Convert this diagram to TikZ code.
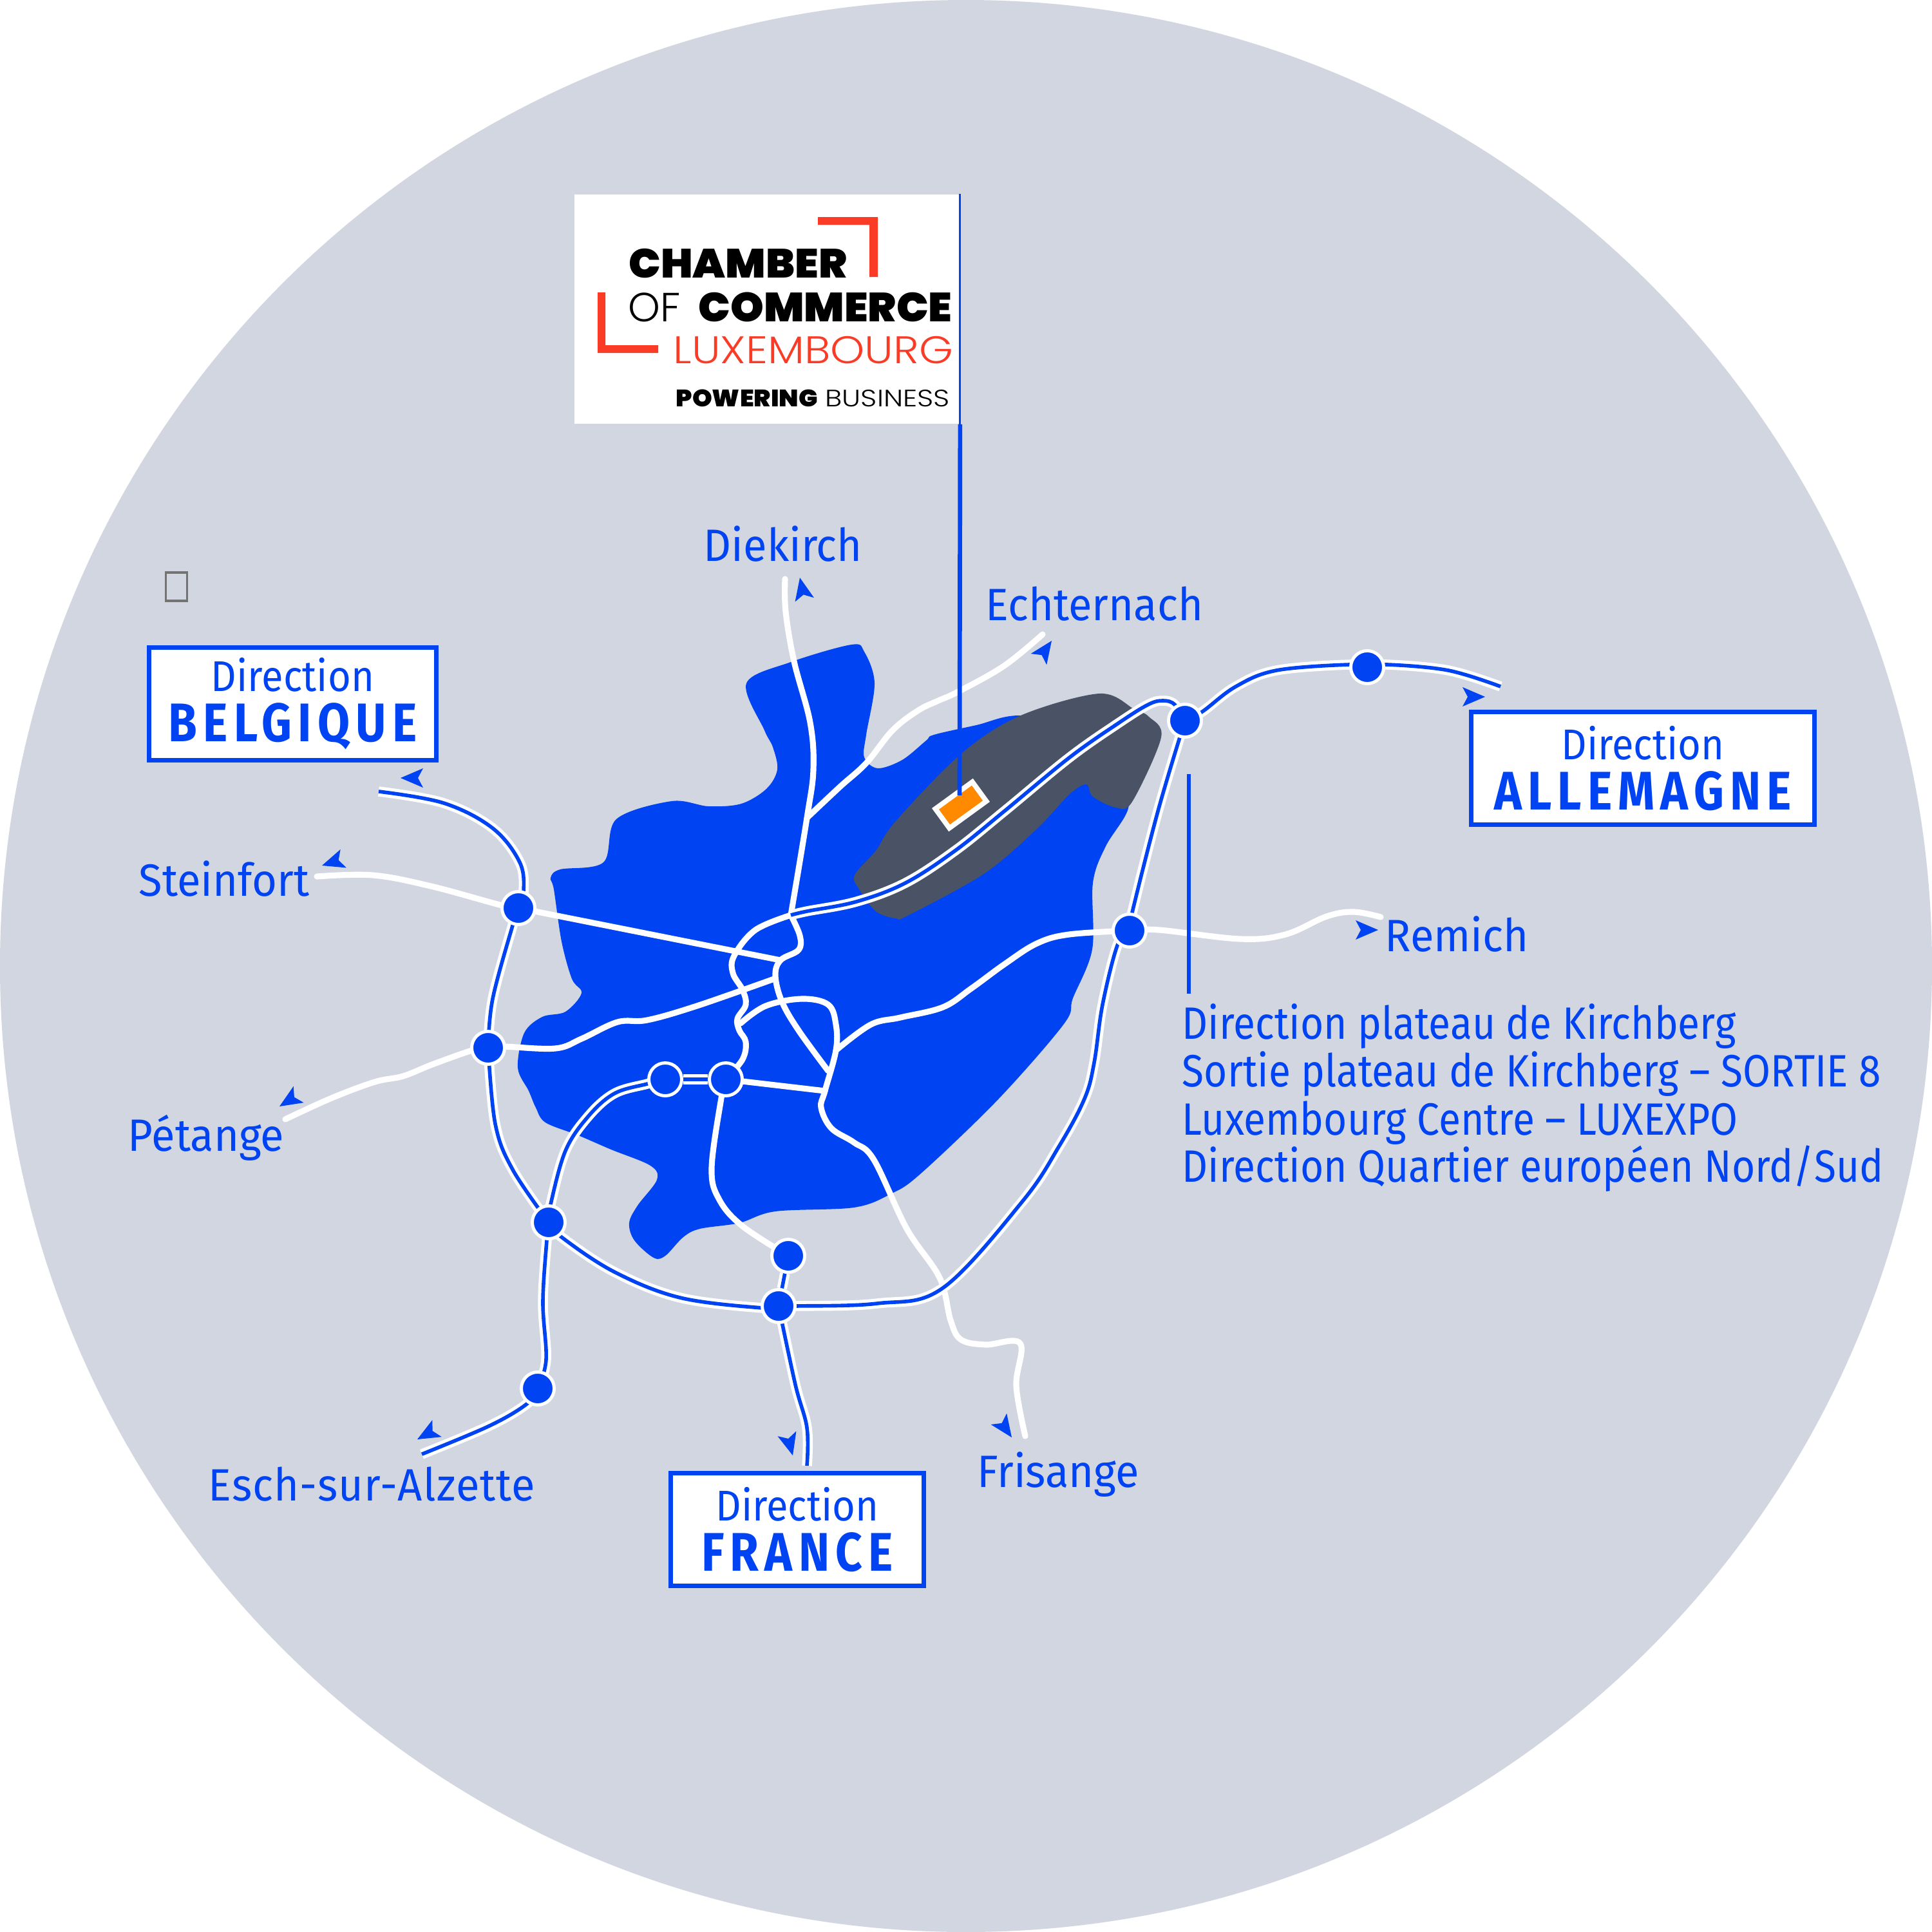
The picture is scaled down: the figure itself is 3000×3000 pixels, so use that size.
\documentclass[tikz,border=0pt]{standalone}
\usepackage{fontspec}
\setmainfont{Fira Sans}[FakeStretch=0.95]
\newfontfamily\exitfont{Fira Sans}[FakeStretch=0.885]
\newfontfamily\directionfont{Fira Sans}[FakeStretch=0.92]
\newfontfamily\signfont{Fira Sans}[FakeStretch=0.86,LetterSpace=11]
\newfontfamily\logolight{Poppins Light}
\newfontfamily\logoheavy{Poppins Black}
\definecolor{discgrey}{HTML}{D2D6E0}
\definecolor{routeblue}{HTML}{0043F3}
\definecolor{zonegrey}{HTML}{4A5366}
\definecolor{siteorange}{HTML}{FF8A00}
\definecolor{logored}{HTML}{FA3B26}
\pgfdeclarelayer{maplayer}
\pgfsetlayers{maplayer,main}
\tikzset{
  road/.style={draw=white,line width=2.6pt,line cap=round},
  motorway/.style={draw=white,double=routeblue,line width=1.4pt,double distance=1.6pt},
  junction/.style={circle,draw=white,fill=routeblue,line width=1.4pt,minimum size=.51cm,inner sep=0},
  place/.style={anchor=base west,inner sep=0,text=routeblue,font=\fontsize{20}{24}\selectfont},
  exitline/.style={place,font=\exitfont\fontsize{20}{24}\selectfont},
  sign/.style={draw=routeblue,fill=white,line width=2pt,text=routeblue,align=center,inner sep=0,
    font=\directionfont\fontsize{19}{22.2}\selectfont},
  logotext/.style={anchor=base west,inner sep=0},
}
\newcommand{\arrowtip}[2]{\fill[routeblue,shift={(#1)},rotate=#2] (0,0) -- (-35,-15) -- (-27,0) -- (-35,15) -- cycle;}
\begin{document}
\begin{tikzpicture}[x=0.01cm,y=-0.01cm]
\useasboundingbox (0,0) rectangle (3000,3000);

% junctions, the roads below are drawn from them
\node[junction] (steinfort) at (805,1410) {};
\node[junction] (petange) at (758,1627) {};
\node[junction] (esch) at (852,1898) {};
\node[junction] (south) at (835,2156) {};
\node[junction] (bridge) at (1209,2028) {};
\node[junction] (gare) at (1224,1950) {};
\node[junction] (hollerich) at (1033,1676) {};
\node[junction] (centre) at (1127,1676) {};
\node[junction] (remich) at (1754,1445) {};
\node[junction] (kirch) at (1840,1119) {};
\node[junction] (trier) at (2123,1036) {};

% free ends of the roads
\coordinate (belend) at (588,1229);
\coordinate (steend) at (492,1361);
\coordinate (petend) at (443,1738);
\coordinate (eschend) at (655,2258);
\coordinate (fraend) at (1253,2276);
\coordinate (friend) at (1592,2230);
\coordinate (allend) at (2330,1066);
\coordinate (remend) at (2144,1424);
\coordinate (dieend) at (1219,899);
\coordinate (echend) at (1619,985);
\coordinate (kirchtop) at (1228,1421);
\coordinate (kirchmid) at (1212,1491);
\coordinate (westmid) at (1202,1520);
\coordinate (loopleft) at (1150,1589);
\coordinate (loopright) at (1298,1631);
\coordinate (loopfoot) at (1281,1694);
\coordinate (dieturn) at (1253,1270);

\begin{pgfonlayer}{maplayer}
% the disc behind everything
\fill[white] (0,0) rectangle (3000,3000);
\fill[discgrey] (1500,1500) circle (1500);

% the city
\fill[routeblue] plot[smooth cycle,tension=.55] coordinates {
  (1159,1061) (1228,1028) (1322,1001) (1342,1012) (1358,1061) (1345,1141) (1342,1176)
  (1363,1193) (1401,1180) (1438,1150) (1450,1141) (1516,1126) (1585,1111) (1700,1130)
  (1745,1200) (1752,1255) (1717,1314) (1697,1371)
  (1696,1474) (1666,1550) (1652,1590) (1550,1707) (1429,1823) (1383,1854) (1326,1875)
  (1204,1881) (1148,1899) (1087,1908) (1061,1921) (1033,1950) (1015,1953) (985,1926)
  (977,1899) (990,1872) (1020,1832) (1010,1810) (949,1785) (898,1763) (847,1743)
  (832,1720) (821,1694) (804,1658) (814,1604) (842,1579) (878,1571) (903,1542) (888,1520)
  (872,1462) (860,1381) (855,1363) (870,1350) (937,1339) (957,1272) (1043,1244)
  (1100,1252) (1151,1248) (1190,1225) (1207,1195) (1200,1160) (1187,1134)};
% the plateau
\fill[zonegrey] plot[smooth cycle,tension=.55] coordinates {
  (1585,1111) (1707,1077) (1761,1101) (1784,1113) (1803,1145) (1758,1245) (1733,1254)
  (1697,1237) (1687,1218) (1661,1233) (1610,1287) (1529,1356) (1411,1421) (1391,1426)
  (1360,1415) (1335,1382) (1327,1359) (1360,1321) (1391,1275) (1493,1170)};

% single roads
\draw[road] plot[smooth,tension=.6] coordinates {(steend) (579,1359) (669,1376) (776,1405) (steinfort)};
\draw[road] (steinfort) -- (kirchmid);
\draw[road] plot[smooth,tension=.6] coordinates {(petend) (515,1705) (582,1680) (626,1671) (671,1653) (733,1631) (petange)};
\draw[road] plot[smooth,tension=.6] coordinates {(petange) (781,1625) (862,1628) (903,1613) (959,1587) (1005,1584) (1082,1562) (westmid)};
\draw[road] plot[smooth,tension=.6] coordinates {(dieend) (1220,950) (1233,1027) (1258,1122) (1263,1195) (dieturn) (kirchtop)};
\draw[road] plot[smooth,tension=.6] coordinates {(echend) (1559,1034) (1488,1074) (1457,1088) (1426,1103) (1386,1134) (1345,1185) (1304,1222) (dieturn)};
\draw[road] plot[smooth,tension=.6] coordinates {(kirchtop) (1173,1444) (1140,1484) (1138,1511) (1153,1537) (1158,1560) (1145,1582) (1148,1600) (1158,1618) (1153,1645) (centre)};
\draw[road] plot[smooth,tension=.6] coordinates {(kirchtop) (1242,1453) (1240,1475) (kirchmid) (1204,1515) (1214,1555) (1240,1600) (1286,1663)};
\draw[road] plot[smooth,tension=.6] coordinates {(loopleft) (1189,1562) (1245,1551) (1286,1560) (1298,1591) (loopright) (loopfoot) (1275,1720) (1291,1752) (1326,1774) (1357,1801) (1408,1908) (1459,1984) (1476,2050) (1492,2080) (1530,2088) (1584,2086) (1578,2152) (friend)};
\draw[road] plot[smooth,tension=.6] coordinates {(remich) (1660,1451) (1610,1465) (1560,1497) (1508,1535) (1464,1564) (1398,1580) (1352,1591) (loopright)};
\draw[road] (centre) -- (loopfoot);
\draw[road] plot[smooth,tension=.6] coordinates {(centre) (1120,1705) (1105,1814) (1117,1863) (1153,1904) (gare)};
\draw[road] plot[smooth,tension=.6] coordinates {(remich) (1800,1444) (1926,1458) (1996,1451) (2060,1423) (2102,1416) (remend)};

% motorways
\draw[motorway] plot[smooth,tension=.6] coordinates {(belend) (689,1247) (765,1286) (807,1339) (813,1385) (steinfort)};
\draw[motorway] plot[smooth,tension=.6] coordinates {(steinfort) (796,1437) (765,1551) (petange)};
\draw[motorway] plot[smooth,tension=.6] coordinates {(petange) (769,1745) (796,1816) (esch)};
\draw[motorway] plot[smooth,tension=.6] coordinates {(esch) (872,1921) (954,1975) (1056,2015) (1184,2031) (bridge)};
\draw[motorway] plot[smooth,tension=.6] coordinates {(bridge) (1235,2028) (1362,2024) (1464,2000) (1588,1865) (1645,1779) (1684,1706) (1699,1650) (1712,1560) (1735,1468) (remich)};
\draw[motorway] plot[smooth,tension=.6] coordinates {(remich) (1758,1417) (1799,1256) (kirch)};
\draw[motorway] plot[smooth,tension=.6] coordinates {(kirch) (1867,1105) (1919,1066) (1982,1041) (2095,1032) (trier)};
\draw[motorway] plot[smooth,tension=.6] coordinates {(trier) (2154,1032) (2249,1041) (allend)};
\draw[motorway] plot[smooth,tension=.6] coordinates {(kirch) (1824,1094) (1806,1088) (1783,1094) (1738,1122) (1661,1176) (1559,1260) (1483,1321) (1406,1371) (1330,1400) (1253,1415) (kirchtop)};
\draw[motorway] plot[smooth,tension=.6] coordinates {(esch) (855,1870) (878,1787) (913,1734) (954,1698) (1005,1683) (hollerich)};
\draw[motorway] (hollerich) -- (centre);
\draw[motorway] plot[smooth,tension=.6] coordinates {(esch) (849,1926) (843,2022) (848,2111) (south)};
\draw[motorway] plot[smooth,tension=.6] coordinates {(south) (818,2180) (760,2214) (eschend)};
\draw[motorway] (gare) -- (bridge);
\draw[motorway] plot[smooth,tension=.6] coordinates {(bridge) (1235,2150) (1253,2217) (fraend)};
\end{pgfonlayer}

% the arrow heads next to the road ends
\arrowtip{622,1208}{180}
\arrowtip{500,1344}{198}
\arrowtip{434,1718}{212}
\arrowtip{648,2235}{209}
\arrowtip{1231,2260}{-75}
\arrowtip{1571,2232}{-55}
\arrowtip{2306,1082}{0}
\arrowtip{2140,1444}{0}
\arrowtip{1242,897}{102}
\arrowtip{1633,995}{55}

% town names
\node[place] (diekirch) at (1092,871) {Diekirch};
\node[place] (echternach) at (1530,963) {Echternach};
\node[place] (steinfortlabel) at (215,1391) {Steinfort};
\node[place] (petangelabel) at (198,1787) {Pétange};
\node[place,font=\addfontfeature{LetterSpace=1.5}\fontsize{20}{24}\selectfont] (eschlabel) at (323,2330) {Esch-sur-Alzette};
\node[place] (frisange) at (1517,2309) {Frisange};
\node[place] (remichlabel) at (2150,1477) {Remich};

% exits of the plateau
\coordinate (exittop) at (1846,1202);
\coordinate (exitfoot) at (1846,1543);
\draw[routeblue,line width=1.6pt] (exittop) -- (exitfoot);
\node[exitline] (exita) at (1835,1613) {Direction plateau de Kirchberg};
\node[exitline] (exitb) at (1835,1687) {Sortie plateau de Kirchberg – SORTIE 8};
\node[exitline] (exitc) at (1835,1762) {Luxembourg Centre – LUXEXPO};
\node[exitline] (exitd) at (1835,1835) {Direction Quartier européen Nord/Sud};

% direction signs
\node[sign,minimum width=4.46cm,minimum height=1.75cm] (belgique) at (454.5,1093)
  {Direction\\{\signfont\fontsize{24}{22.2}\selectfont\bfseries BELGIQUE}};
\node[sign,minimum width=5.33cm,minimum height=1.75cm] (allemagne) at (2551,1193)
  {Direction\\{\signfont\fontsize{24}{22.2}\selectfont\bfseries ALLEMAGNE}};
\node[sign,minimum width=3.93cm,minimum height=1.75cm] (france) at (1238,2375)
  {Direction\\{\signfont\fontsize{24}{22.2}\selectfont\bfseries FRANCE}};

% the small empty box
\node[draw=black!55,line width=.9pt,minimum width=.33cm,minimum height=.44cm,inner sep=0] (emptybox) at (274,911) {};

% the logo
\node[fill=white,minimum width=5.98cm,minimum height=3.56cm,inner sep=0] (logo) at (1191,480) {};
\fill[logored] (1270,337) -- (1363,337) -- (1363,430) -- (1350,430) -- (1350,349) -- (1270,349) -- cycle;
\fill[logored] (928,454) -- (940,454) -- (940,536) -- (1022,536) -- (1022,548) -- (928,548) -- cycle;
\node[logotext,font=\logoheavy\addfontfeature{FakeStretch=1.04}\fontsize{18}{20}\selectfont] (chamber) at (976,431) {CHAMBER};
\node[logotext,font=\logolight\fontsize{18}{20}\selectfont] (of) at (975,499) {OF};
\node[logotext,font=\logoheavy\addfontfeature{FakeStretch=1.04}\fontsize{18}{20}\selectfont] (commerce) at (1084,499) {COMMERCE};
\node[logotext,text=logored,font=\logolight\addfontfeature{FakeStretch=1.13}\fontsize{17}{20}\selectfont] (luxembourg) at (1045,564) {LUXEMBOURG};
\node[logotext,font=\logoheavy\addfontfeature{FakeStretch=1.06}\fontsize{10.5}{12}\selectfont] (powering) at (1049,631) {POWERING};
\node[logotext,font=\logolight\addfontfeature{FakeStretch=1.19}\fontsize{10.5}{12}\selectfont] (business) at (1281,631) {BUSINESS};

% the site and the line from the logo down to it
\node[draw=white,fill=siteorange,line width=2.2pt,rotate=36,minimum width=.71cm,minimum height=.37cm,inner sep=0] (site) at (1492,1250) {};
\coordinate (sitepin) at (1490,1235);
\draw[routeblue,line width=1.9pt] (logo.south east) -- (sitepin);
\draw[routeblue,line width=.9pt] (logo.north east) -- (logo.south east);
\end{tikzpicture}
\end{document}
